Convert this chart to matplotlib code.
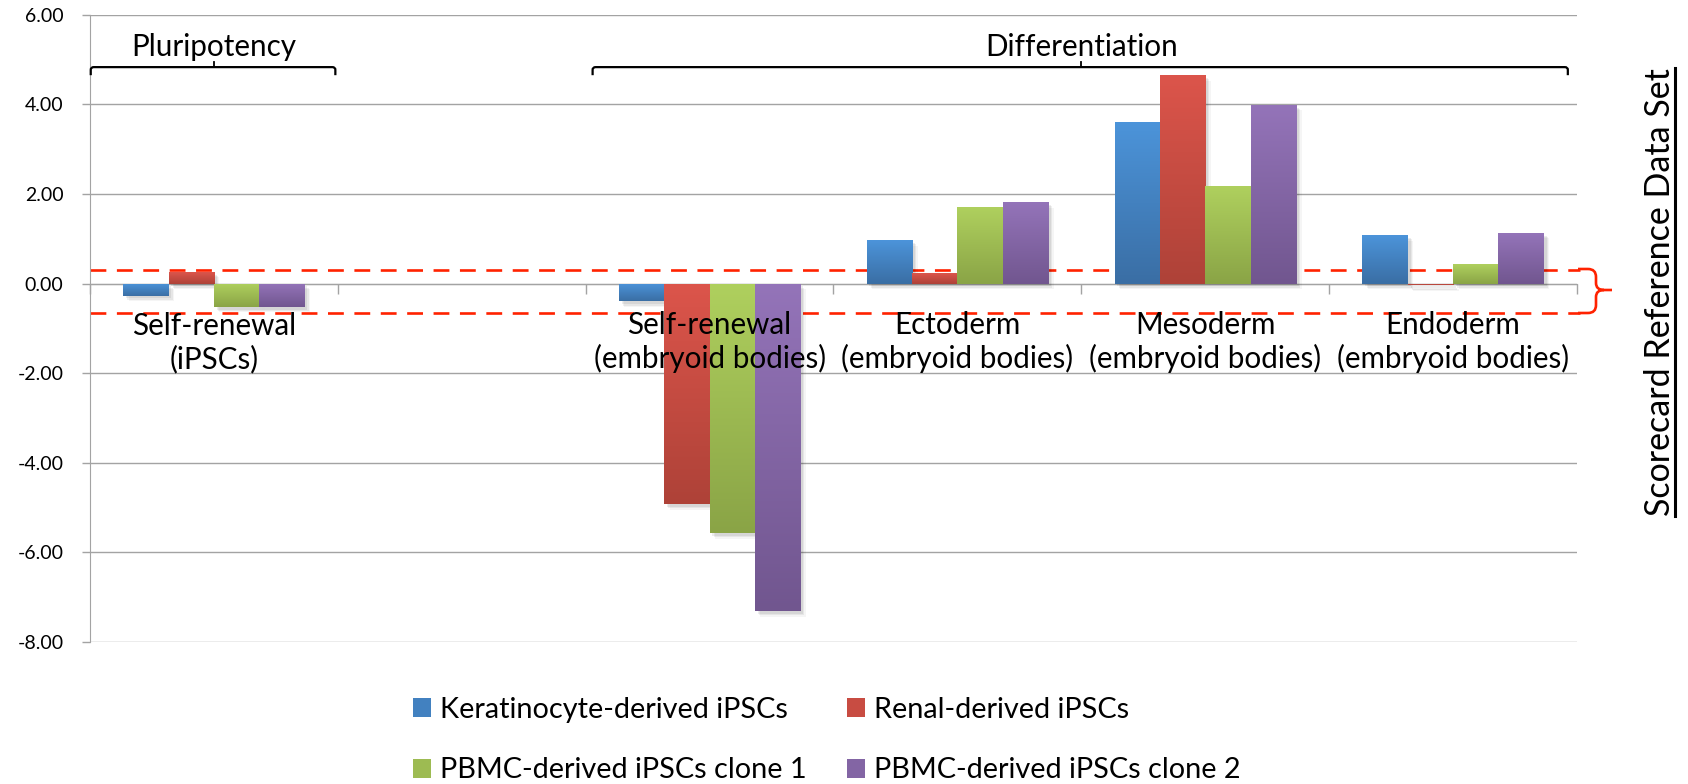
import numpy as np
import matplotlib
matplotlib.use('Agg')
import matplotlib.pyplot as plt
from matplotlib.patches import Patch, PathPatch
from matplotlib.path import Path
from matplotlib.lines import Line2D
from matplotlib.colors import LinearSegmentedColormap
import matplotlib.patheffects as pe

plt.rcParams['font.family'] = ['Lato', 'DejaVu Sans']

# ---------------- data ----------------
categories = ["Self-renewal\n(iPSCs)", "", "Self-renewal\n(embryoid bodies)",
              "Ectoderm\n(embryoid bodies)", "Mesoderm\n(embryoid bodies)",
              "Endoderm\n(embryoid bodies)"]
series_names = ["Keratinocyte-derived iPSCs", "Renal-derived iPSCs",
                "PBMC-derived iPSCs clone 1", "PBMC-derived iPSCs clone 2"]
keratinocyte = [-0.27, np.nan, -0.40, 0.97, 3.61, 1.08]
renal = [0.26, np.nan, -4.92, 0.24, 4.65, -0.04]
pbmc_clone1 = [-0.52, np.nan, -5.57, 1.71, 2.18, 0.44]
pbmc_clone2 = [-0.52, np.nan, -7.31, 1.82, 3.99, 1.13]
reference_band = [0.30, -0.66]
yticks = [-8, -6, -4, -2, 0, 2, 4, 6]
group_labels = ["Pluripotency", "Differentiation"]
side_label = "Scorecard Reference Data Set"

series = [keratinocyte, renal, pbmc_clone1, pbmc_clone2]
colors_top = ['#4C94DA', '#DC554B', '#AFD05E', '#9474B9']
colors_bot = ['#3A6EA4', '#AE4238', '#8AA446', '#71568F']
colors_mid = ['#4281C0', '#C84C42', '#9DBB52', '#8365A4']

W, H = 1688, 784
fig = plt.figure(figsize=(W / 100, H / 100), dpi=100)
ax = fig.add_axes([90 / W, 1 - 642 / H, (1577 - 90) / W, (642 - 14.7) / H])

grid_c = '#A3A3A3'
x = np.arange(len(categories))
width = 0.183
shadow = [pe.SimplePatchShadow(offset=(2, -2), shadow_rgbFace='#000000', alpha=0.07),
          pe.SimplePatchShadow(offset=(3, -3), shadow_rgbFace='#000000', alpha=0.06),
          pe.SimplePatchShadow(offset=(4, -4), shadow_rgbFace='#000000', alpha=0.04),
          pe.Normal()]
for k, vals in enumerate(series):
    off = (k - 1.5) * width
    cmap = LinearSegmentedColormap.from_list('g%d' % k, [colors_top[k], colors_bot[k]])
    for i, v in enumerate(vals):
        if np.isnan(v):
            continue
        bars = ax.bar(x[i] + off, v, width, color=colors_mid[k], linewidth=0, zorder=3,
                      path_effects=shadow)
        rect = bars[0]
        grad = np.linspace(0, 1, 256).reshape(-1, 1)
        im = ax.imshow(grad, cmap=cmap, origin='upper', aspect='auto', interpolation='bilinear',
                       extent=[x[i] + off - width / 2, x[i] + off + width / 2, min(0, v), max(0, v)],
                       zorder=3.1)
        im.set_clip_path(rect)

ax.set_xlim(-0.5, 5.5)
ax.set_ylim(-8, 6)

# reference band dashed lines
for yv in reference_band:
    ax.plot([-0.5, 5.512], [yv, yv], color='#FF2200', lw=1.9, dashes=(6, 4), zorder=2.5, clip_on=False)

# axes styling
ax.set_yticks(yticks)
ax.set_yticklabels([f"{t:.2f}" for t in yticks])
ax.tick_params(axis='y', length=6, width=1, color=grid_c, pad=13, labelsize=14)
ax.set_xticks(np.arange(-0.5, 6, 1))
ax.set_xticklabels([])
ax.tick_params(axis='x', length=7, width=1, color=grid_c, direction='out')
ax.yaxis.grid(True, color=grid_c, lw=1.0)
ax.set_axisbelow(True)
for s in ['top', 'right']:
    ax.spines[s].set_visible(False)
ax.spines['bottom'].set_position(('data', 0))
ax.spines['bottom'].set_color(grid_c)
ax.spines['left'].set_color(grid_c)
ax.spines['bottom'].set_zorder(2.6)

# category labels
for i, lab in enumerate(categories):
    if lab:
        ax.text(x[i], -1.31, lab, ha='center', va='center', fontsize=21.3, linespacing=1.2, zorder=4)

# group brackets
def bracket(x0, x1, xc, y, ydown, yup):
    dx = 0.012
    verts = [(x0, ydown), (x0, y - 0.06), (x0, y), (x0 + dx, y), (x1 - dx, y), (x1, y), (x1, y - 0.06), (x1, ydown)]
    codes = [Path.MOVETO, Path.LINETO, Path.CURVE3, Path.CURVE3, Path.LINETO, Path.CURVE3, Path.CURVE3, Path.LINETO]
    ax.add_patch(PathPatch(Path(verts, codes), fill=False, lw=1.6, color='black', zorder=4, clip_on=False))
    ax.plot([xc, xc], [y, yup], color='black', lw=1.3, zorder=4)

bracket(-0.497, 0.49, 0.0, 4.83, 4.65, 4.95)
bracket(1.528, 5.463, 3.5, 4.83, 4.65, 4.95)
ax.text(0.0, 5.27, group_labels[0], ha='center', va='center', fontsize=21.3)
ax.text(3.5, 5.27, group_labels[1], ha='center', va='center', fontsize=21.3)

# right-hand brace
def fp(px, py):
    return (px / W, 1 - py / H)

bv = [fp(1578, 269), fp(1588, 269), fp(1596, 269), fp(1596, 277), fp(1596, 283), fp(1596, 290), fp(1604, 290),
      fp(1612, 290), fp(1604, 290), fp(1596, 290), fp(1596, 297), fp(1596, 305), fp(1596, 313), fp(1588, 313),
      fp(1578, 313)]
bc = [Path.MOVETO, Path.LINETO, Path.CURVE3, Path.CURVE3, Path.LINETO, Path.CURVE3, Path.CURVE3,
      Path.LINETO, Path.MOVETO, Path.CURVE3, Path.CURVE3, Path.LINETO, Path.CURVE3, Path.CURVE3, Path.LINETO]
fig.add_artist(PathPatch(Path(bv, bc), fill=False, lw=1.9, color='#FF2200', transform=fig.transFigure))

# side label with underline
t = fig.text(1660 / W, 1 - 292 / H, side_label, rotation=90, ha='center', va='center', fontsize=24.5)
fig.canvas.draw()
bb = t.get_window_extent()
fig.add_artist(Line2D([1675 / W, 1675 / W], [bb.y0 / H, bb.y1 / H], transform=fig.transFigure,
                      color='black', lw=2.2))

# legend
handles = [Patch(facecolor=colors_mid[k], edgecolor='none') for k in range(4)]
order = [0, 2, 1, 3]
fig.legend([handles[k] for k in order], [series_names[k] for k in order], ncol=2,
           loc='center left', bbox_to_anchor=(399 / W, 1 - 740 / H), frameon=False, fontsize=20.8,
           handlelength=0.62, handleheight=0.62, handletextpad=0.3, labelspacing=1.2,
           columnspacing=1.4, borderpad=0)

fig.savefig('out.png', dpi=100)
